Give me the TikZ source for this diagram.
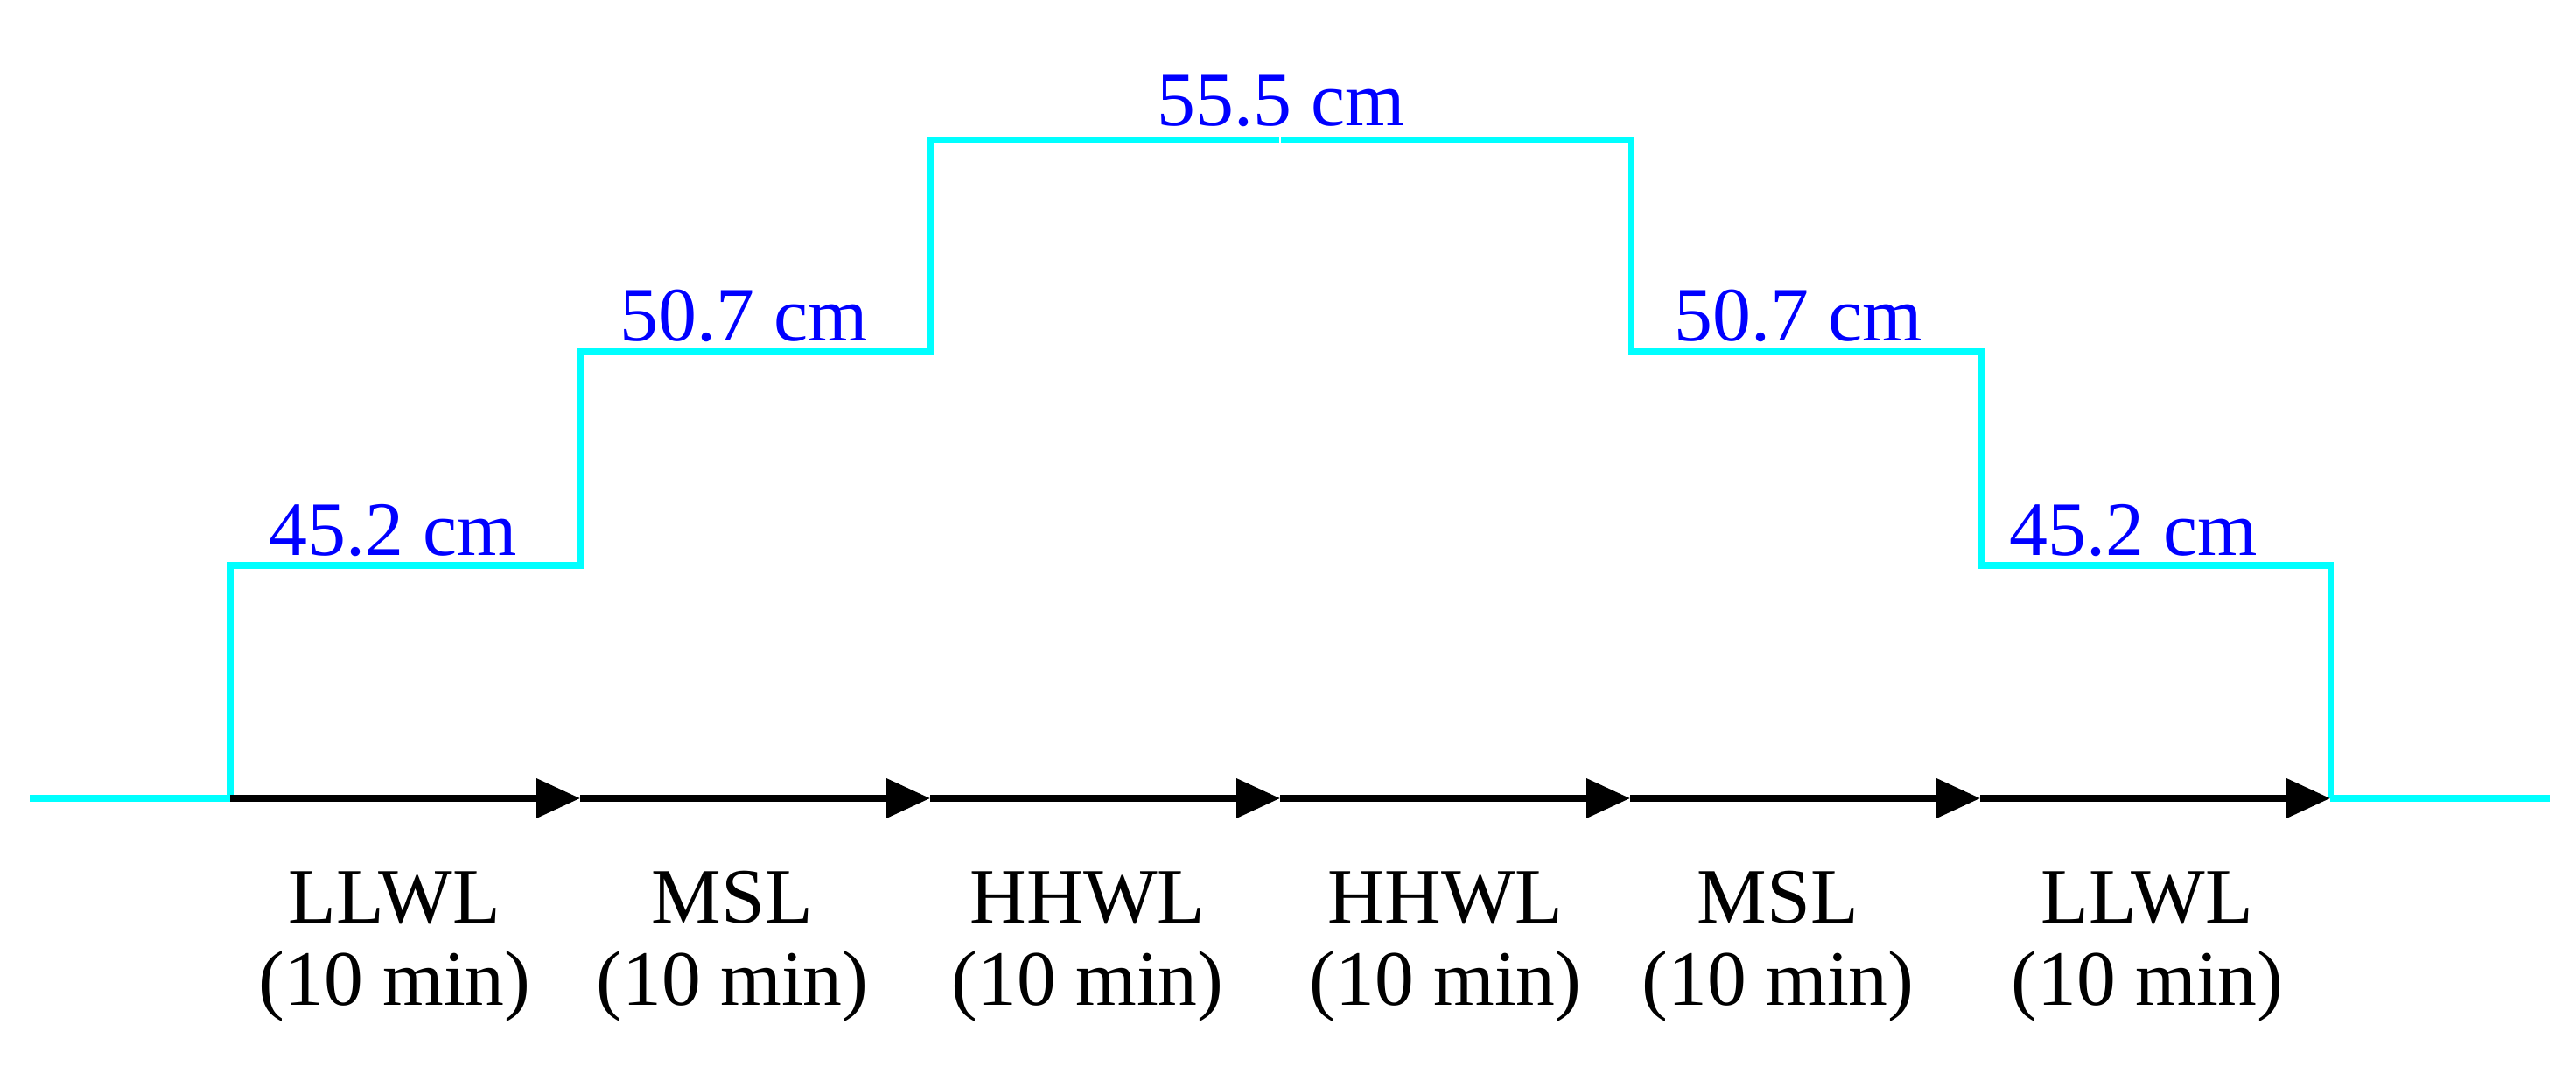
\documentclass[tikz,border=0pt]{standalone}
\usepackage{fontspec}
\setmainfont{Liberation Serif}
\usetikzlibrary{arrows.meta}
\definecolor{wcyan}{HTML}{00FFFF}
\definecolor{wblue}{HTML}{0000FF}
\tikzset{
  water/.style={draw=wcyan, line width=2pt},
  flow/.style={draw=black, line width=2pt, -{Triangle[length=0.5cm,width=0.44cm]}},
  lvl/.style={text=wblue, font=\fontsize{25}{30}\selectfont, anchor=base, inner sep=0pt},
  phase/.style={text=black, font=\fontsize{25.5}{30}\selectfont, anchor=base, inner sep=0pt}
}
\begin{document}
\begin{tikzpicture}
\useasboundingbox (0,0) rectangle (29.44,12.27);
% baseline coordinates
\coordinate (L) at (0.34,3.15);
\coordinate (R) at (29.14,3.15);
\foreach \i/\x in {0/2.63,1/6.63,2/10.63,3/14.63,4/18.63,5/22.63,6/26.63}
  \coordinate (s\i) at (\x,3.15);
% step outline
\coordinate (a1) at (2.63,5.81);
\coordinate (a2) at (6.63,5.81);
\coordinate (b1) at (6.63,8.25);
\coordinate (b2) at (10.63,8.25);
\coordinate (c1) at (10.63,10.67);
\coordinate (cm1) at (14.62,10.67);
\coordinate (cm2) at (14.64,10.67);
\coordinate (c2) at (18.64,10.67);
\coordinate (d1) at (18.64,8.25);
\coordinate (d2) at (22.64,8.25);
\coordinate (e1) at (22.64,5.81);
\coordinate (e2) at (26.63,5.81);
\draw[water] (L) -- (s0);
\draw[water] (s6) -- (R);
\draw[water] (s0) -- (a1) -- (a2) -- (b1) -- (b2) -- (c1) -- (cm1);
\draw[water] (cm2) -- (c2) -- (d1) -- (d2) -- (e1) -- (e2) -- (s6);
% arrows
\foreach \i/\j in {0/1,1/2,2/3,3/4,4/5,5/6}
  \draw[flow] (s\i) -- (s\j);
% level labels
\node[lvl] (t1) at (4.49,5.92) {45.2 cm};
\node[lvl] (t2) at (8.50,8.37) {50.7 cm};
\node[lvl] (t3) at (14.64,10.83) {55.5 cm};
\node[lvl] (t4) at (20.55,8.37) {50.7 cm};
\node[lvl] (t5) at (24.38,5.92) {45.2 cm};
% phase labels
\foreach \k/\x/\name in {1/4.51/LLWL,2/8.37/MSL,3/12.43/HHWL,4/16.52/HHWL,5/20.32/MSL,6/24.54/LLWL}{
  \node[phase] (p\k a) at (\x,1.72) {\name};
  \node[phase] (p\k b) at (\x,0.78) {(10 min)};
}
\end{tikzpicture}
\end{document}
